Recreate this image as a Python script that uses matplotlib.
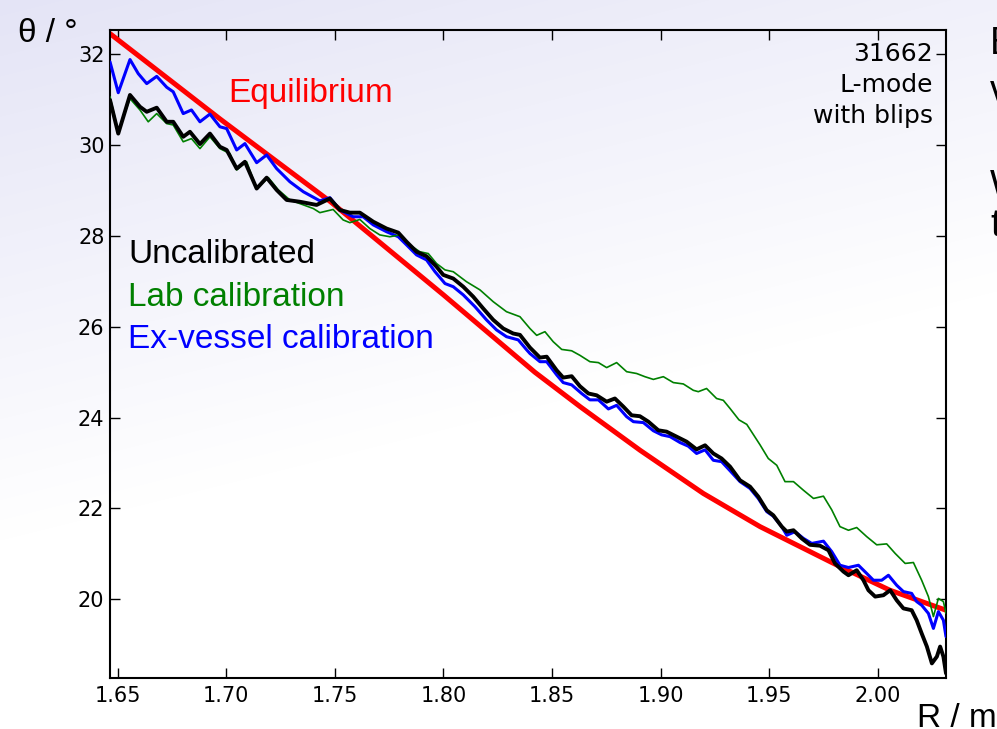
import numpy as np
import matplotlib.pyplot as plt

# radius (m) and pitch angle (deg)
r_uncal = [1.6465, 1.6503, 1.6557, 1.6603, 1.6634, 1.6680, 1.6726, 1.6756, 1.6802, 1.6833,
           1.6879, 1.6925, 1.6971, 1.7002, 1.7048, 1.7086, 1.7140, 1.7186, 1.7232, 1.7278,
           1.7339, 1.7416, 1.7477, 1.7523, 1.7569, 1.7615, 1.7677, 1.7738, 1.7792, 1.7830,
           1.7876, 1.7922, 1.7968, 1.7999, 1.8045, 1.8091, 1.8137, 1.8183, 1.8229, 1.8275,
           1.8321, 1.8352, 1.8398, 1.8444, 1.8475, 1.8521, 1.8551, 1.8590, 1.8628, 1.8667,
           1.8705, 1.8751, 1.8789, 1.8828, 1.8866, 1.8904, 1.8943, 1.8989, 1.9027, 1.9073,
           1.9119, 1.9165, 1.9204, 1.9242, 1.9280, 1.9319, 1.9365, 1.9411, 1.9449, 1.9488,
           1.9518, 1.9557, 1.9580, 1.9611, 1.9649, 1.9687, 1.9733, 1.9772, 1.9802, 1.9841,
           1.9864, 1.9902, 1.9933, 1.9956, 1.9987, 2.0025, 2.0056, 2.0086, 2.0117, 2.0155,
           2.0178, 2.0201, 2.0225, 2.0248, 2.0271, 2.0286, 2.0301, 2.0313]
th_uncal = [30.99, 30.25, 31.10, 30.84, 30.73, 30.82, 30.51, 30.51, 30.18, 30.29,
            30.02, 30.25, 29.96, 29.89, 29.48, 29.63, 29.04, 29.28, 29.01, 28.79,
            28.75, 28.68, 28.82, 28.57, 28.51, 28.51, 28.31, 28.16, 28.07, 27.87,
            27.65, 27.55, 27.32, 27.14, 27.06, 26.88, 26.66, 26.40, 26.15, 25.96,
            25.85, 25.82, 25.54, 25.32, 25.34, 25.04, 24.88, 24.91, 24.69, 24.53,
            24.49, 24.35, 24.42, 24.24, 24.05, 24.03, 23.91, 23.72, 23.69, 23.58,
            23.47, 23.30, 23.39, 23.21, 23.10, 22.92, 22.62, 22.48, 22.26, 21.96,
            21.85, 21.60, 21.49, 21.52, 21.34, 21.20, 21.18, 21.08, 20.79, 20.61,
            20.53, 20.64, 20.42, 20.20, 20.06, 20.09, 20.20, 19.98, 19.80, 19.76,
            19.54, 19.25, 18.96, 18.59, 18.74, 18.96, 18.74, 18.37]

r_lab = [1.6465, 1.6503, 1.6557, 1.6603, 1.6641, 1.6680, 1.6726, 1.6756, 1.6802, 1.6840,
         1.6879, 1.6925, 1.6971, 1.7017, 1.7048, 1.7094, 1.7140, 1.7194, 1.7240, 1.7293,
         1.7401, 1.7431, 1.7492, 1.7538, 1.7569, 1.7615, 1.7661, 1.7707, 1.7753, 1.7799,
         1.7845, 1.7891, 1.7930, 1.7968, 1.8007, 1.8045, 1.8106, 1.8168, 1.8229, 1.8290,
         1.8352, 1.8398, 1.8429, 1.8467, 1.8505, 1.8544, 1.8590, 1.8628, 1.8674, 1.8713,
         1.8751, 1.8797, 1.8843, 1.8889, 1.8927, 1.8966, 1.9012, 1.9058, 1.9104, 1.9150,
         1.9173, 1.9211, 1.9257, 1.9288, 1.9319, 1.9360, 1.9396, 1.9457, 1.9495, 1.9534,
         1.9572, 1.9611, 1.9657, 1.9703, 1.9749, 1.9787, 1.9825, 1.9864, 1.9902, 1.9948,
         1.9994, 2.0040, 2.0079, 2.0125, 2.0163, 2.0201, 2.0232, 2.0255, 2.0278, 2.0301,
         2.0313]
th_lab = [31.06, 30.29, 31.02, 30.77, 30.51, 30.69, 30.47, 30.44, 30.07, 30.14,
          29.92, 30.18, 29.92, 29.81, 29.45, 29.63, 29.04, 29.28, 29.01, 28.79,
          28.60, 28.51, 28.58, 28.35, 28.29, 28.36, 28.16, 28.02, 27.98, 28.02,
          27.80, 27.65, 27.61, 27.39, 27.25, 27.21, 26.99, 26.81, 26.55, 26.33,
          26.22, 25.96, 25.81, 25.89, 25.67, 25.50, 25.47, 25.37, 25.23, 25.21,
          25.10, 25.21, 25.01, 24.97, 24.90, 24.84, 24.90, 24.77, 24.74, 24.60,
          24.57, 24.64, 24.42, 24.38, 24.20, 23.95, 23.85, 23.40, 23.10, 22.95,
          22.59, 22.59, 22.40, 22.22, 22.27, 21.97, 21.60, 21.52, 21.58, 21.38,
          21.20, 21.22, 21.01, 20.79, 20.81, 20.42, 20.06, 19.62, 20.02, 19.95,
          19.69]

r_exv = [1.6465, 1.6503, 1.6557, 1.6595, 1.6634, 1.6680, 1.6726, 1.6756, 1.6802, 1.6840,
         1.6879, 1.6925, 1.6971, 1.7002, 1.7048, 1.7086, 1.7140, 1.7186, 1.7232, 1.7293,
         1.7355, 1.7431, 1.7477, 1.7523, 1.7584, 1.7630, 1.7677, 1.7738, 1.7792, 1.7830,
         1.7876, 1.7922, 1.7961, 1.8007, 1.8045, 1.8091, 1.8145, 1.8198, 1.8244, 1.8290,
         1.8344, 1.8383, 1.8398, 1.8444, 1.8475, 1.8521, 1.8551, 1.8590, 1.8636, 1.8674,
         1.8713, 1.8759, 1.8797, 1.8843, 1.8874, 1.8920, 1.8966, 1.9004, 1.9043, 1.9089,
         1.9127, 1.9165, 1.9204, 1.9242, 1.9280, 1.9319, 1.9365, 1.9411, 1.9449, 1.9488,
         1.9518, 1.9557, 1.9580, 1.9618, 1.9657, 1.9695, 1.9749, 1.9787, 1.9825, 1.9864,
         1.9910, 1.9948, 1.9979, 2.0017, 2.0048, 2.0086, 2.0117, 2.0155, 2.0178, 2.0201,
         2.0232, 2.0255, 2.0278, 2.0301, 2.0313]
th_exv = [31.83, 31.15, 31.88, 31.57, 31.35, 31.51, 31.27, 31.17, 30.69, 30.77,
          30.51, 30.68, 30.40, 30.36, 29.89, 30.03, 29.61, 29.78, 29.48, 29.19,
          28.97, 28.77, 28.84, 28.57, 28.42, 28.42, 28.24, 28.09, 27.98, 27.80,
          27.58, 27.47, 27.21, 26.95, 26.88, 26.70, 26.44, 26.15, 25.93, 25.78,
          25.71, 25.49, 25.41, 25.23, 25.23, 24.94, 24.77, 24.72, 24.53, 24.39,
          24.39, 24.19, 24.27, 24.02, 23.91, 23.89, 23.71, 23.62, 23.58, 23.45,
          23.37, 23.21, 23.29, 23.06, 23.03, 22.83, 22.59, 22.44, 22.22, 21.93,
          21.83, 21.60, 21.41, 21.49, 21.34, 21.23, 21.28, 21.05, 20.75, 20.70,
          20.75, 20.57, 20.42, 20.42, 20.53, 20.31, 20.17, 20.13, 19.95, 19.87,
          19.69, 19.36, 19.73, 19.54, 19.18]

r_eq = [1.6465, 1.6972, 1.7480, 1.8000, 1.8420, 1.8629, 1.8905, 1.9196, 1.9457, 1.9825, 2.0055, 2.0313]
th_eq = [32.45, 30.57, 28.75, 26.70, 25.00, 24.24, 23.28, 22.33, 21.60, 20.72, 20.20, 19.76]

xticks = [1.65, 1.70, 1.75, 1.80, 1.85, 1.90, 1.95, 2.00]
yticks = [20, 22, 24, 26, 28, 30, 32]

W, H = 997, 729
fig = plt.figure(figsize=(W / 100, H / 100), dpi=100)


def fx(px):
    return px / W


def fy(py):
    return 1 - py / H


# slide background: lavender fading to white
bg = fig.add_axes([0, 0, 1, 1], zorder=-10)
yy, xx = np.mgrid[0:H, 0:W]
t = np.clip((yy + 0.25 * xx) / 540.0, 0, 1)[..., None]
c0 = np.array([0.895, 0.895, 0.965])
bg.imshow(c0 * (1 - t) + t, aspect='auto', extent=[0, 1, 0, 1])
bg.axis('off')

ax = fig.add_axes([fx(110), fy(677.7), fx(946) - fx(110), fy(30) - fy(677.7)])
ax.patch.set_alpha(0)

kw = dict(solid_joinstyle='round', solid_capstyle='round')
ax.plot(r_eq, th_eq, color='#ff0000', lw=3.6, zorder=2, **kw)
ax.plot(r_exv, th_exv, color='#0000ff', lw=2.2, zorder=3, **kw)
ax.plot(r_lab, th_lab, color='#008000', lw=1.2, zorder=3, **kw)
ax.plot(r_uncal, th_uncal, color='black', lw=2.8, zorder=4, **kw)

ax.set_xlim(1.6465, 2.0313)
ax.set_ylim(18.275, 32.53)
ax.set_xticks(xticks)
ax.set_xticklabels(['%.2f' % v for v in xticks])
ax.set_yticks(yticks)
for s in ax.spines.values():
    s.set_linewidth(1.5)
ax.tick_params(direction='in', top=True, right=True, length=7, width=1,
               labelsize=15, pad=6)
ax.tick_params(axis='y', pad=4)
for lab in ax.get_xticklabels() + ax.get_yticklabels():
    lab.set_family('DejaVu Sans')

sans = 'Liberation Sans'
fig.text(fx(228), fy(101.7), 'Equilibrium', color='#ff0000', fontsize=24, family=sans, va='baseline')
fig.text(fx(128), fy(263), 'Uncalibrated', color='black', fontsize=24, family=sans, va='baseline')
fig.text(fx(128), fy(306), 'Lab calibration', color='#008000', fontsize=24, family=sans, va='baseline')
fig.text(fx(128), fy(348.5), 'Ex-vessel calibration', color='#0000ff', fontsize=24, family=sans, va='baseline')

fig.text(fx(933), fy(42), '31662\nL-mode\nwith blips', fontsize=18, family='DejaVu Sans',
         ha='right', va='top', ma='right', linespacing=1.36)

fig.text(fx(18), fy(42), 'θ / °', fontsize=24, family=sans, va='baseline')
fig.text(fx(917), fy(727), 'R / m', fontsize=24, family=sans, va='baseline')

# slide body text cut off at the right edge
for s, py in [('E', 53.5), ('v', 101.5), ('W', 197), ('t', 236)]:
    fig.text(fx(990), fy(py), s, fontsize=27, family=sans, va='baseline')

fig.savefig('out.png', dpi=100)
